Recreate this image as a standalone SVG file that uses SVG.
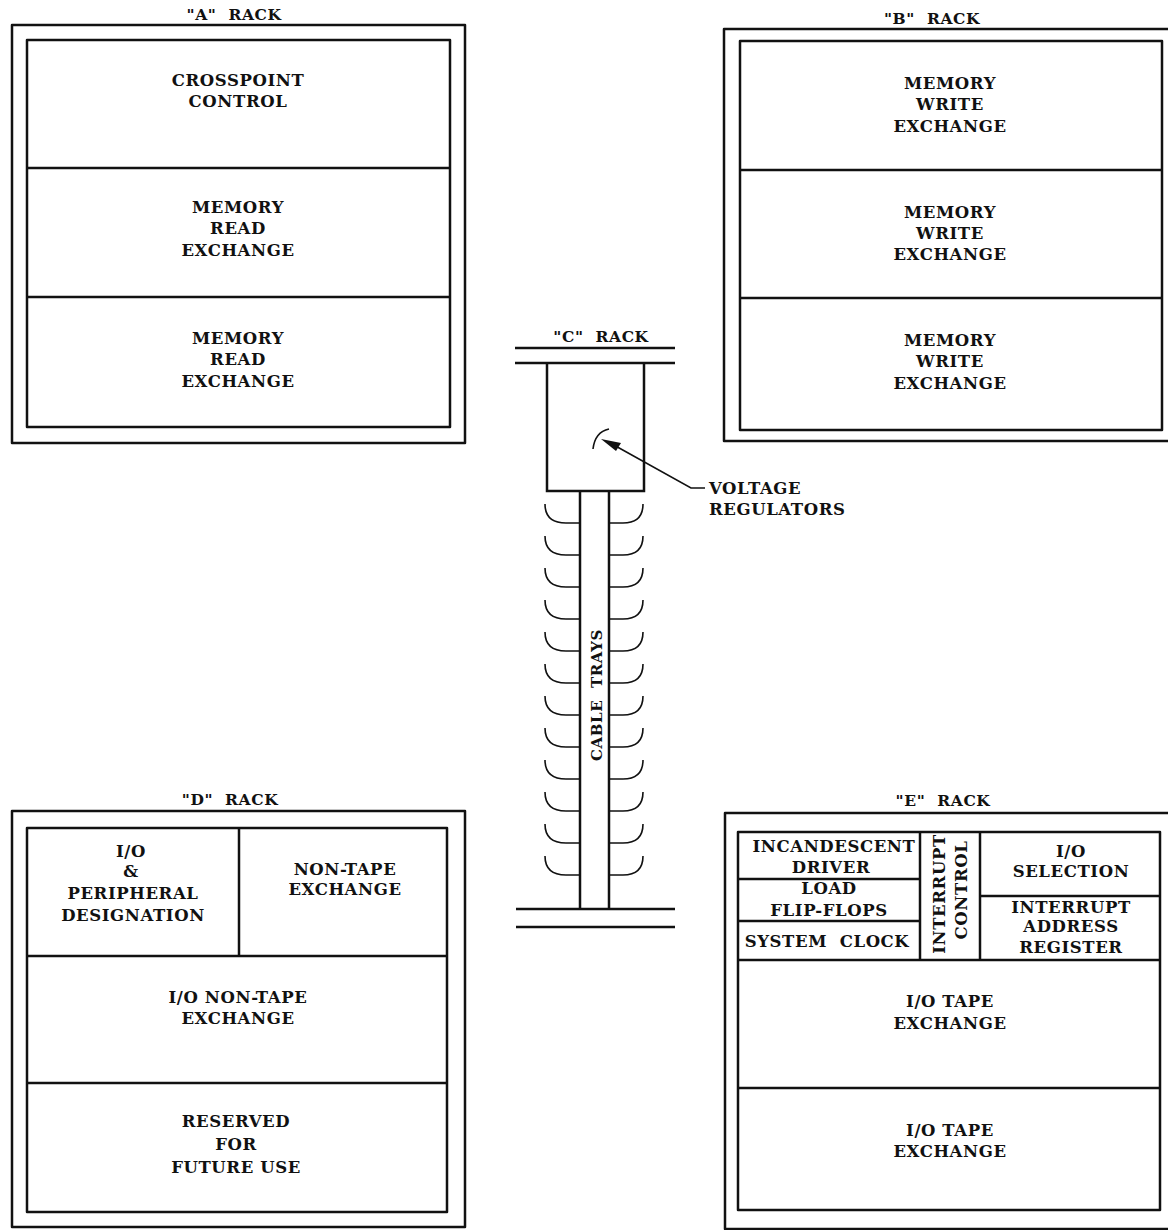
<svg xmlns="http://www.w3.org/2000/svg" width="1168" height="1230" viewBox="0 0 1168 1230">
<style>
.box{fill:none;stroke:#111;stroke-width:2.5;stroke-linejoin:round}
.ln{fill:none;stroke:#111;stroke-width:2.5}
.thin{fill:none;stroke:#111;stroke-width:1.6}
text{font-family:"DejaVu Serif","Liberation Serif",serif;font-weight:bold;font-size:16.5px;fill:#111;text-anchor:middle;letter-spacing:0.6px;white-space:pre}
.ttl{font-size:15.5px}
.sm{font-size:15px}
.lab{text-anchor:start}
</style>
<rect width="1168" height="1230" fill="#fff"/>

<g id="rackA">
<text class="ttl" x="234" y="20">"A"  RACK</text>
<rect class="box" x="12" y="25" width="453" height="418"/>
<rect class="box" x="27" y="40" width="423" height="387"/>
<line class="ln" x1="27" y1="168" x2="450" y2="168"/>
<line class="ln" x1="27" y1="297" x2="450" y2="297"/>
<text x="238" y="86">CROSSPOINT</text>
<text x="238" y="107">CONTROL</text>
<text x="238" y="213">MEMORY</text>
<text x="238" y="234">READ</text>
<text x="238" y="256">EXCHANGE</text>
<text x="238" y="344">MEMORY</text>
<text x="238" y="365">READ</text>
<text x="238" y="387">EXCHANGE</text>
</g>

<g id="rackB">
<text class="ttl" x="932" y="24">"B"  RACK</text>
<rect class="box" x="724" y="29" width="450" height="412"/>
<rect class="box" x="740" y="41" width="422" height="389"/>
<line class="ln" x1="740" y1="170" x2="1162" y2="170"/>
<line class="ln" x1="740" y1="298" x2="1162" y2="298"/>
<text x="950" y="89">MEMORY</text>
<text x="950" y="110">WRITE</text>
<text x="950" y="132">EXCHANGE</text>
<text x="950" y="218">MEMORY</text>
<text x="950" y="239">WRITE</text>
<text x="950" y="260">EXCHANGE</text>
<text x="950" y="346">MEMORY</text>
<text x="950" y="367">WRITE</text>
<text x="950" y="389">EXCHANGE</text>
</g>

<g id="rackC">
<text class="ttl" x="601" y="342">"C"  RACK</text>
<line class="ln" x1="515" y1="348" x2="675" y2="348"/>
<line class="ln" x1="515" y1="363" x2="675" y2="363"/>
<path class="ln" d="M547,363 V491 H644 V363"/>
<path class="ln" d="M580,491 V909 M609,491 V909"/>
<line class="ln" x1="516" y1="909" x2="675" y2="909"/>
<line class="ln" x1="516" y1="927" x2="675" y2="927"/>
<g id="trays" class="thin">
<path d="M545,504 Q545,523 566,523 H580 M609,523 H623 Q643,523 643,504"/>
<path d="M545,536 Q545,555 566,555 H580 M609,555 H623 Q643,555 643,536"/>
<path d="M545,568 Q545,587 566,587 H580 M609,587 H623 Q643,587 643,568"/>
<path d="M545,600 Q545,619 566,619 H580 M609,619 H623 Q643,619 643,600"/>
<path d="M545,632 Q545,651 566,651 H580 M609,651 H623 Q643,651 643,632"/>
<path d="M545,664 Q545,683 566,683 H580 M609,683 H623 Q643,683 643,664"/>
<path d="M545,696 Q545,715 566,715 H580 M609,715 H623 Q643,715 643,696"/>
<path d="M545,728 Q545,747 566,747 H580 M609,747 H623 Q643,747 643,728"/>
<path d="M545,760 Q545,779 566,779 H580 M609,779 H623 Q643,779 643,760"/>
<path d="M545,792 Q545,811 566,811 H580 M609,811 H623 Q643,811 643,792"/>
<path d="M545,824 Q545,843 566,843 H580 M609,843 H623 Q643,843 643,824"/>
<path d="M545,856 Q545,875 566,875 H580 M609,875 H623 Q643,875 643,856"/>
</g>
<text class="sm" transform="translate(602,695) rotate(-90)">CABLE  TRAYS</text>
<path class="thin" d="M593,449 Q595,432 609,429"/>
</g>

<g id="connectors">
<path class="thin" d="M705,488 H691 L612,444"/>
<polygon points="601,439 621,443 616,451" fill="#111"/>
</g>
<g id="voltageLabel">
<text class="lab" x="709" y="494">VOLTAGE</text>
<text class="lab" x="709" y="515">REGULATORS</text>
</g>

<g id="rackD">
<text class="ttl" x="230" y="805">"D"  RACK</text>
<rect class="box" x="12" y="811" width="453" height="416"/>
<rect class="box" x="27" y="828" width="420" height="384"/>
<line class="ln" x1="239" y1="828" x2="239" y2="956"/>
<line class="ln" x1="27" y1="956" x2="447" y2="956"/>
<line class="ln" x1="27" y1="1083" x2="447" y2="1083"/>
<text x="131" y="857">I/O</text>
<text x="131" y="877">&amp;</text>
<text x="133" y="899">PERIPHERAL</text>
<text x="133" y="921">DESIGNATION</text>
<text x="345" y="875">NON-TAPE</text>
<text x="345" y="895">EXCHANGE</text>
<text x="238" y="1003">I/O NON-TAPE</text>
<text x="238" y="1024">EXCHANGE</text>
<text x="236" y="1127">RESERVED</text>
<text x="236" y="1150">FOR</text>
<text x="236" y="1173">FUTURE USE</text>
</g>

<g id="rackE">
<text class="ttl" x="943" y="806">"E"  RACK</text>
<rect class="box" x="725" y="813" width="450" height="416"/>
<rect class="box" x="738" y="832" width="422" height="378"/>
<line class="ln" x1="920" y1="832" x2="920" y2="960"/>
<line class="ln" x1="980" y1="832" x2="980" y2="960"/>
<line class="ln" x1="738" y1="879" x2="920" y2="879"/>
<line class="ln" x1="738" y1="921" x2="920" y2="921"/>
<line class="ln" x1="980" y1="896" x2="1160" y2="896"/>
<line class="ln" x1="738" y1="960" x2="1160" y2="960"/>
<line class="ln" x1="738" y1="1088" x2="1160" y2="1088"/>
<text x="834" y="852">INCANDESCENT</text>
<text x="831" y="873">DRIVER</text>
<text x="829" y="894">LOAD</text>
<text x="829" y="916">FLIP-FLOPS</text>
<text x="827" y="947">SYSTEM  CLOCK</text>
<text transform="translate(945,894) rotate(-90)">INTERRUPT</text>
<text transform="translate(967,890) rotate(-90)">CONTROL</text>
<text x="1071" y="857">I/O</text>
<text x="1071" y="877">SELECTION</text>
<text x="1071" y="913">INTERRUPT</text>
<text x="1071" y="932">ADDRESS</text>
<text x="1071" y="953">REGISTER</text>
<text x="950" y="1007">I/O TAPE</text>
<text x="950" y="1029">EXCHANGE</text>
<text x="950" y="1136">I/O TAPE</text>
<text x="950" y="1157">EXCHANGE</text>
</g>
</svg>
